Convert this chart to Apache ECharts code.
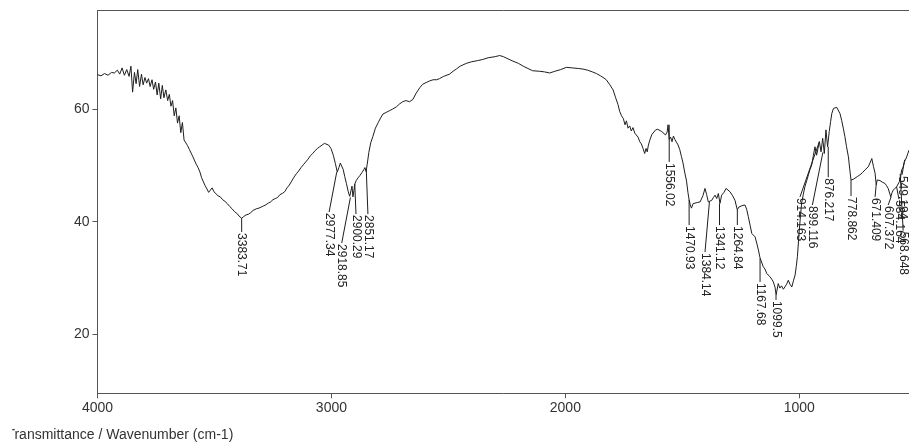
<!DOCTYPE html>
<html>
<head>
<meta charset="utf-8">
<script src="https://cdn.jsdelivr.net/npm/echarts@6/dist/echarts.min.js"></script>
<style>
  html, body { margin: 0; padding: 0; background: #fff; }
  #main { width: 909px; height: 447px; }
</style>
</head>
<body>
<div id="main"></div>
<script>
// 光谱曲线 (wavenumber, transmittance)
var wavenumber = [4000,3985,3970,3955,3940,3928,3915,3905,3895,3885,3875,3865,3857,3850,3842,3835,3828,3820,3812,3805,
  3797,3790,3782,3775,3767,3760,3752,3745,3738,3730,3723,3716,3708,3700,3693,3686,3679,3672,3665,3658,
  3651,3644,3637,3630,3622,3615,3607,3600,3592,3585,3578,3570,3562,3555,3548,3540,3532,3525,3518,3510,
  3502,3495,3485,3475,3465,3455,3445,3435,3425,3415,3405,3395,3384,3375,3365,3355,3345,3335,3320,3310,
  3300,3290,3280,3270,3260,3250,3240,3230,3220,3210,3200,3190,3180,3170,3160,3150,3140,3130,3120,3110,
  3100,3090,3080,3070,3060,3050,3040,3030,3022,3012,3002,2992,2983,2975,2968,2962,2956,2950,2943,2936,
  2928,2922,2918,2912,2908,2904,2900,2894,2886,2878,2870,2862,2857,2852,2847,2840,2832,2823,2812,2800,
  2790,2780,2766,2752,2738,2722,2709,2695,2682,2666,2652,2638,2622,2610,2595,2580,2565,2550,2538,2520,
  2495,2480,2466,2450,2424,2400,2375,2353,2330,2300,2281,2265,2245,2224,2200,2180,2160,2140,2110,2090,
  2067,2045,2020,1996,1970,1945,1925,1905,1885,1867,1850,1835,1825,1810,1796,1785,1775,1768,1760,1752,
  1745,1739,1732,1725,1718,1711,1703,1696,1689,1682,1675,1668,1661,1655,1650,1645,1638,1630,1622,1614,
  1605,1597,1588,1580,1572,1565,1561,1556,1550,1544,1538,1532,1525,1518,1511,1504,1497,1490,1482,1476,
  1471,1466,1461,1454,1446,1436,1424,1412,1403,1396,1389,1382,1374,1367,1360,1353,1346,1339,1332,1322,
  1313,1305,1296,1285,1275,1265,1258,1250,1241,1232,1225,1218,1210,1203,1196,1189,1182,1175,1168,1161,
  1154,1147,1139,1132,1125,1118,1111,1104,1099,1090,1083,1076,1068,1061,1054,1047,1040,1032,1025,1018,
  1013,1008,1000,995,990,983,976,968,961,954,947,940,933,926,920,914,907,900,893,886,
  879,872,866,861,854,847,840,833,826,819,812,805,798,790,784,779,770,762,752,741,
  730,719,712,705,698,690,683,676,671,667,661,655,645,634,627,620,614,609,603,598,
  590,584,578,572,567,562,556,551,545,541,536,531];
var transmittance = [66.1,65.9,66.3,66.0,66.5,66.4,66.9,66.2,67.3,66.0,67.0,65.8,67.6,63.0,66.5,64.5,67.0,64.0,66.2,64.3,
  65.6,64.6,65.4,64.0,65.2,63.5,64.8,62.5,64.6,61.8,64.2,62.0,63.4,61.5,62.6,60.5,61.5,58.8,60.2,57.5,
  58.8,55.8,57.6,54.5,54.8,53.5,52.8,52.6,51.5,51.8,50.2,49.6,48.8,47.8,47.6,46.4,45.8,45.2,45.5,46.0,
  45.3,45.2,44.6,44.4,43.9,43.6,43.2,42.7,42.3,41.8,41.5,41.0,40.6,40.9,41.2,41.3,41.6,42.0,42.3,42.4,
  42.6,42.8,43.0,43.3,43.5,43.9,44.1,44.3,44.8,45.0,45.3,46.0,46.5,47.2,47.9,48.5,49.0,49.6,50.1,50.6,
  51.1,51.7,52.1,52.6,53.0,53.3,53.6,53.9,54.0,53.6,53.0,51.8,50.3,48.8,49.6,50.4,50.2,49.3,48.0,46.8,
  45.3,44.5,44.3,46.3,44.4,45.5,46.7,47.3,47.8,48.2,48.7,49.2,49.6,48.9,50.2,52.3,54.0,55.1,56.6,57.6,
  58.4,59.1,59.4,59.7,60.0,60.4,60.9,61.3,61.5,61.3,61.7,62.8,63.8,64.4,64.7,65.0,65.2,65.2,65.4,65.8,
  66.2,66.7,67.1,67.6,68.1,68.4,68.6,68.8,69.1,69.3,69.5,69.3,68.9,68.5,68.1,67.6,67.2,66.8,66.7,66.6,
  66.4,66.7,67.0,67.4,67.3,67.2,67.1,66.9,66.6,66.3,65.9,65.5,65.2,64.3,63.4,62.0,60.8,59.6,58.8,58.3,
  57.2,57.9,56.6,57.0,56.1,56.7,55.7,55.4,55.0,54.2,53.8,53.0,52.1,53.0,52.4,53.6,54.6,55.5,55.8,56.3,
  56.4,56.2,56.0,55.7,55.4,55.9,57.2,54.6,55.0,54.2,55.2,54.6,54.3,53.6,52.8,51.6,50.4,48.8,47.2,45.2,
  43.9,43.0,42.4,43.2,43.25,43.4,43.5,44.6,45.9,44.8,43.5,43.7,43.8,44.3,44.7,44.1,45.0,43.25,44.7,45.2,
  45.9,45.6,45.3,44.6,43.8,42.1,42.6,42.8,42.9,42.95,42.2,40.9,39.3,37.9,37.6,37.3,36.2,35.0,33.6,33.5,
  32.0,31.6,30.8,30.5,30.2,29.8,29.3,28.4,27.0,29.0,28.2,28.6,28.0,27.85,28.9,29.6,28.9,28.4,29.5,30.5,
  32.0,33.8,38.5,41.0,43.25,44.8,46.2,47.3,48.3,49.3,50.05,51.7,53.3,51.8,53.0,54.2,52.4,54.8,52.1,56.3,
  53.3,56.0,57.8,59.2,60.1,60.4,60.3,60.1,59.2,58.0,56.6,55.1,53.3,51.5,49.2,47.4,47.5,47.7,48.0,48.3,
  48.7,49.2,49.5,49.75,50.4,51.2,49.8,48.6,46.5,47.4,47.7,47.3,47.0,46.8,46.4,45.9,45.6,44.4,45.2,45.6,
  45.9,46.2,46.0,47.1,48.0,49.2,49.7,50.6,51.1,51.5,52.1,52.7];

// 峰标注
var peakText = ['3383.71','2977.34','2918.85','2900.29','2851.17','1556.02','1470.93','1384.14','1341.12','1264.84',
  '1167.68','1099.5','914.163','899.116','876.217','778.862','671.409','607.372','584.164','568.648','549.194'];
var peakWn = [3383.71,2977.34,2918.85,2900.29,2851.17,1556.02,1470.93,1384.14,1341.12,1264.84,
  1167.68,1099.5,914.163,899.116,876.217,778.862,671.409,607.372,584.164,568.648,549.194];
var peakT = [40.6,48.8,44.3,46.7,49.4,57.2,43.9,43.5,43.25,42.1,
  33.5,27.0,54.2,52.3,53.3,47.4,46.5,44.4,46.2,48.5,51.0];
var labelWn = [3383.71,3010,2956,2895,2844,1556.02,1470.93,1403,1341.12,1264.84,
  1167.68,1099.5,997,944,876.217,778.862,676,620,574,556,561];
var labelT = [38.15,41.7,36.2,41.35,41.35,50.6,39.4,34.6,39.4,39.4,
  29.3,26.1,44.4,42.95,47.9,44.55,44.4,42.95,44.0,38.4,48.3];

var xTicks = [4000, 3000, 2000, 1000];
var yTicks = [20, 40, 60];

var curve = [];
wavenumber.forEach(function(w, i){
  curve.push([w, transmittance[i]]);
});
var peaks = [];
peakWn.forEach(function(w, i){
  peaks.push([w, peakT[i], labelWn[i], labelT[i]]);
});

var axisColor = '#555';
var textColor = '#333';
var font = '"Liberation Sans", Arial, sans-serif';

var chart = echarts.init(document.getElementById('main'));
var option = {
  animation: false,
  backgroundColor: '#fff',
  grid: { left: 97.5, right: 0, top: 10.7, bottom: 53.7, outerBoundsMode: 'none' },
  xAxis: [{
    type: 'value', inverse: true, min: 531, max: 4000,
    splitLine: { show: false },
    axisLine: { show: true, lineStyle: { color: axisColor, width: 1 } },
    axisTick: { show: true, length: 5, customValues: xTicks, lineStyle: { color: axisColor } },
    axisLabel: {
      customValues: xTicks, color: textColor, fontSize: 14, fontFamily: font, margin: 8,
      formatter: function(v){ return String(v); }
    }
  }, {
    type: 'value', inverse: true, min: 531, max: 4000, position: 'top',
    splitLine: { show: false },
    axisLine: { show: true, onZero: false, lineStyle: { color: axisColor, width: 1 } },
    axisTick: { show: false },
    axisLabel: { show: false }
  }],
  yAxis: {
    type: 'value', min: 9.52, max: 77.46,
    splitLine: { show: false },
    axisLine: { show: true, lineStyle: { color: axisColor, width: 1 } },
    axisTick: { show: true, length: 5, customValues: yTicks, lineStyle: { color: axisColor } },
    axisLabel: {
      customValues: yTicks, color: textColor, fontSize: 14, fontFamily: font, margin: 8,
      formatter: function(v){ return String(v); }
    }
  },
  series: [{
    type: 'line',
    data: curve,
    showSymbol: false,
    symbol: 'none',
    lineStyle: { color: '#1e1e1e', width: 1 },
    silent: true
  }, {
    type: 'custom',
    data: peaks,
    clip: false,
    silent: true,
    encode: { x: [0, 2], y: [1, 3] },
    renderItem: function(params, api){
      var p0 = api.coord([api.value(0), api.value(1)]);
      var p1 = api.coord([api.value(2), api.value(3)]);
      return {
        type: 'group',
        children: [{
          type: 'line',
          shape: { x1: p0[0], y1: p0[1], x2: p1[0], y2: p1[1] },
          style: { stroke: '#1e1e1e', lineWidth: 1 }
        }, {
          type: 'text',
          x: p1[0], y: p1[1] + 1,
          rotation: -Math.PI / 2,
          style: {
            text: peakText[params.dataIndex],
            fill: '#222',
            font: '12px ' + font,
            align: 'left',
            verticalAlign: 'middle'
          }
        }]
      };
    }
  }],
  graphic: [{
    type: 'text',
    left: 6.4, top: 428,
    style: { text: 'Transmittance / Wavenumber (cm-1)', fill: textColor, font: '14px ' + font }
  }, {
    // 原图左侧被裁掉
    type: 'rect',
    shape: { x: 0, y: 426, width: 12.3, height: 21 },
    style: { fill: '#fff' },
    z: 100
  }]
};
chart.setOption(option);
</script>
</body>
</html>
